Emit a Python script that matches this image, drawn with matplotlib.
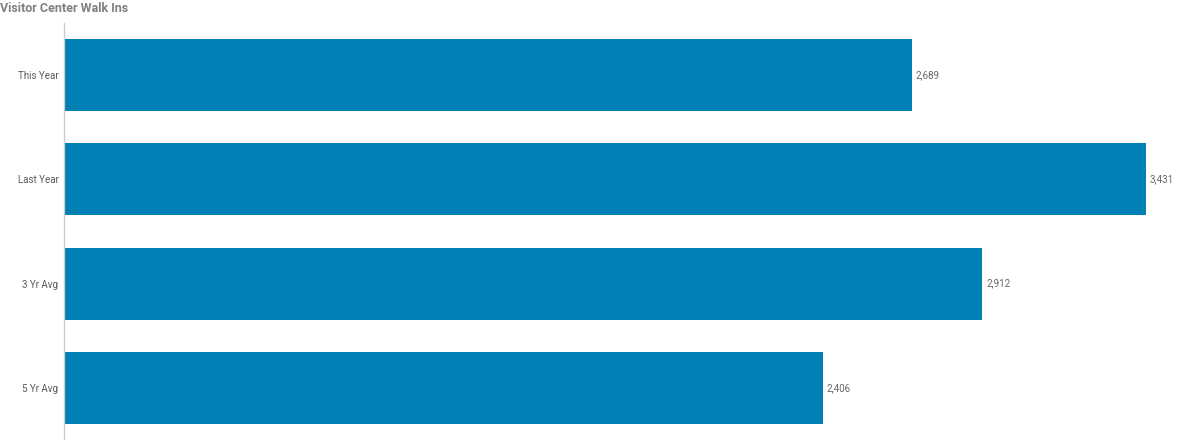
import matplotlib.pyplot as plt

categories = ["This Year", "Last Year", "3 Yr Avg", "5 Yr Avg"]
values = [2689, 3431, 2912, 2406]

plt.rcParams['font.family'] = ['Roboto', 'DejaVu Sans']

fig = plt.figure(figsize=(12, 4.4), dpi=100)
ax = fig.add_axes([64 / 1200, 0, 1126 / 1200, 417 / 440])

ypos = list(range(len(categories)))
ax.barh(ypos, values, height=0.69, color="#0080b4")
for y, v in zip(ypos, values):
    ax.text(v + 12, y, f"{v:,}", va="center", ha="left", fontsize=7, color="#666666")

ax.set_xlim(0, 3570)
ax.set_ylim(3.5, -0.5)
ax.set_yticks(ypos)
ax.set_yticklabels(categories, fontsize=7, color="#595959")
ax.tick_params(axis="y", length=0, pad=4)
ax.set_xticks([])
for side in ["top", "right", "bottom"]:
    ax.spines[side].set_visible(False)
ax.spines["left"].set_color("#cccccc")
ax.spines["left"].set_linewidth(1)

fig.text(0.0, 1 - 8 / 440, "Visitor Center Walk Ins", fontsize=9, fontweight="bold",
         color="#808080", ha="left", va="center")

fig.savefig("out.png", dpi=100)
